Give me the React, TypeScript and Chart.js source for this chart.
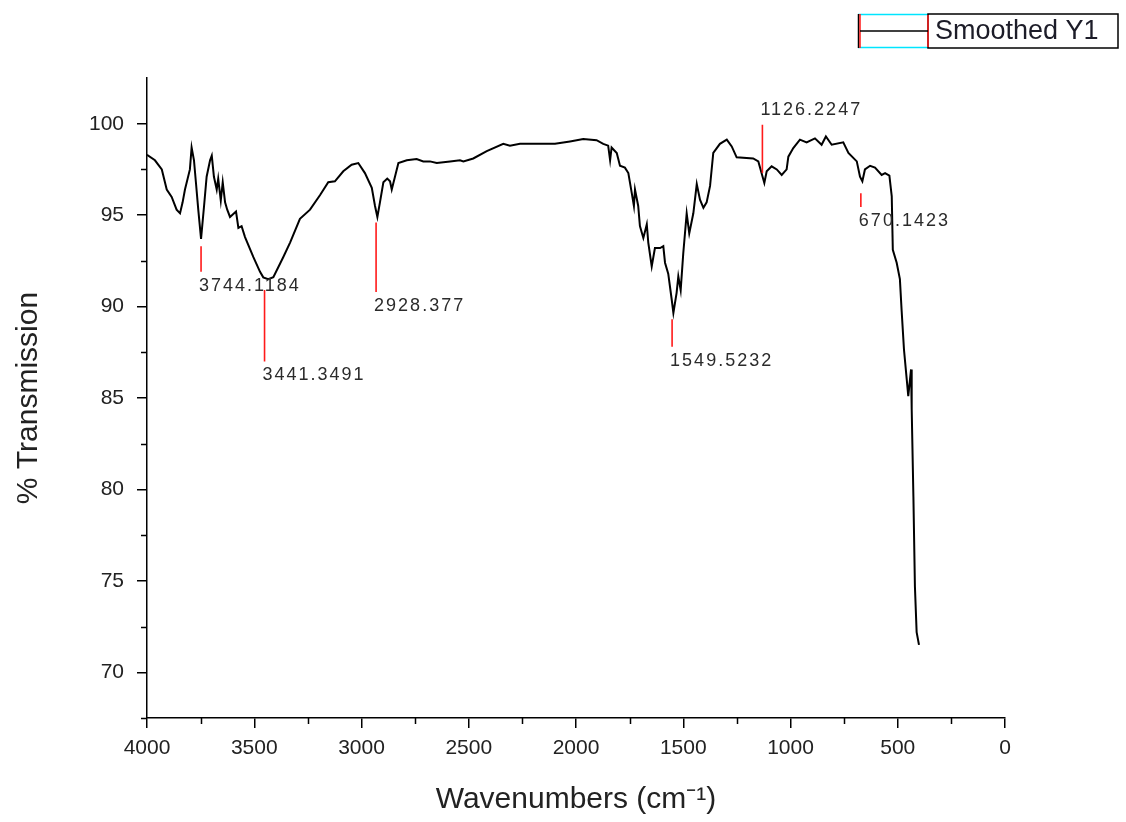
import React, { useEffect, useRef } from 'react';
import { Chart, registerables } from 'chart.js';

Chart.register(...registerables);

// Spectrum (wavenumber cm-1, % transmission)
const wavenumbers = [
  4000, 3963, 3931, 3908, 3885, 3862, 3846, 3834, 3823, 3800, 3792, 3781, 3772, 3761, 3748,
  3734, 3722, 3706, 3698, 3688, 3675, 3668, 3656, 3647, 3636, 3626, 3613, 3585, 3574, 3559,
  3543, 3504, 3473, 3458, 3435, 3411, 3365, 3333, 3287, 3240, 3193, 3155, 3124, 3085, 3046,
  3015, 2984, 2952, 2937, 2926, 2914, 2898, 2880, 2867, 2859, 2844, 2828, 2789, 2743, 2712,
  2681, 2649, 2587, 2541, 2525, 2479, 2416, 2339, 2308, 2261, 2098, 2028, 1966, 1904, 1873,
  1850, 1841, 1834, 1810, 1795, 1772, 1756, 1740, 1730, 1725, 1710, 1702, 1686, 1670, 1663,
  1647, 1632, 1608, 1593, 1585, 1570, 1554, 1546, 1531, 1523, 1512, 1500, 1484, 1472, 1453,
  1437, 1422, 1406, 1391, 1375, 1360, 1329, 1297, 1274, 1251, 1174, 1150, 1135, 1122, 1111,
  1088, 1064, 1041, 1018, 1010, 987, 956, 925, 886, 855, 835, 808, 754, 730, 691,
  676, 665, 653, 629, 606, 575, 559, 539, 528, 523, 505, 490, 482, 471, 458,
  451, 438, 435, 427, 420, 412, 401,
];
const transmission = [
  98.3, 98.0, 97.5, 96.4, 96.0, 95.3, 95.1, 95.7, 96.4, 97.5, 98.7, 98.0, 96.8, 95.3, 93.7,
  95.5, 97.1, 98.0, 98.25, 97.1, 96.4, 97.0, 95.8, 96.8, 95.7, 95.3, 94.9, 95.2, 94.3, 94.4,
  93.8, 92.7, 91.9, 91.6, 91.5, 91.6, 92.7, 93.5, 94.8, 95.3, 96.1, 96.8, 96.85, 97.4, 97.76,
  97.85, 97.3, 96.5, 95.5, 94.9, 95.7, 96.8, 97.0, 96.85, 96.4, 97.1, 97.85, 98.0, 98.07, 97.94,
  97.94, 97.85, 97.94, 98.0, 97.94, 98.1, 98.5, 98.9, 98.8, 98.9, 98.9, 99.03, 99.16, 99.1, 98.9,
  98.8, 98.0, 98.7, 98.4, 97.7, 97.6, 97.3, 96.2, 95.5, 96.4, 95.5, 94.4, 93.75, 94.5, 93.5,
  92.2, 93.2, 93.2, 93.3, 92.4, 91.8, 90.4, 89.65, 90.75, 91.65, 90.9, 92.9, 95.1, 94.0, 95.1,
  96.7, 95.85, 95.4, 95.7, 96.6, 98.4, 98.9, 99.13, 98.76, 98.16, 98.1, 97.94, 97.3, 96.76, 97.4,
  97.67, 97.5, 97.2, 97.5, 98.2, 98.67, 99.13, 98.98, 99.2, 98.85, 99.3, 98.85, 98.98, 98.4, 97.94,
  97.1, 96.85, 97.5, 97.7, 97.6, 97.2, 97.3, 97.16, 96.03, 93.1, 92.4, 91.5, 89.8, 87.65, 86.0,
  85.1, 86.56, 84.4, 79.6, 74.7, 72.2, 71.5,
];

// Peak annotations
const peakLabels = ['3744.1184', '3441.3491', '2928.377', '1549.5232', '1126.2247', '670.1423'];
const peakMarkerX = [3748, 3452, 2932, 1552, 1131, 672];
const peakMarkerTop = [93.3, 90.9, 94.6, 89.3, 99.95, 96.2];
const peakMarkerBottom = [91.9, 87.0, 90.8, 87.8, 97.3, 95.45];
const peakLabelAbove = [false, false, false, false, true, false];

// Axis ticks
const xMajorTicks = [0, 500, 1000, 1500, 2000, 2500, 3000, 3500, 4000];
const xMinorTicks = [250, 750, 1250, 1750, 2250, 2750, 3250, 3750];
const yMajorTicks = [70, 75, 80, 85, 90, 95, 100];
const yMinorTicks = [67.5, 72.5, 77.5, 82.5, 87.5, 92.5, 97.5];

const seriesName = 'Smoothed Y1';

export default function App() {
  const canvasRef = useRef<HTMLCanvasElement | null>(null);

  useEffect(() => {
    const canvas = canvasRef.current;
    if (!canvas) return;

    const spectrum = wavenumbers.map((w, i) => ({ x: w, y: transmission[i] }));
    const markerSets = peakMarkerX.map((px, i) => ({
      label: peakLabels[i],
      data: [
        { x: px, y: peakMarkerTop[i] },
        { x: px, y: peakMarkerBottom[i] },
      ],
      borderColor: '#ff1a1a',
      borderWidth: 1.6,
      pointRadius: 0,
      order: 0,
    }));

    const decorPlugin = {
      id: 'decor',
      afterDatasetsDraw(chart: any) {
        const ctx = chart.ctx as CanvasRenderingContext2D;
        const xs = chart.scales.x;
        const ys = chart.scales.y;
        ctx.save();
        ctx.font = '18px "Liberation Sans", Arial, sans-serif';
        (ctx as any).letterSpacing = '2px';
        ctx.fillStyle = '#2b2b2b';
        ctx.textAlign = 'left';
        ctx.textBaseline = 'middle';
        peakLabels.forEach((lab, i) => {
          const x = xs.getPixelForValue(peakMarkerX[i]) - 2;
          const y = peakLabelAbove[i]
            ? ys.getPixelForValue(peakMarkerTop[i]) - 15
            : ys.getPixelForValue(peakMarkerBottom[i]) + 14;
          ctx.fillText(lab, x, y);
        });
        (ctx as any).letterSpacing = '0px';
        ctx.restore();
      },
      afterDraw(chart: any) {
        const ctx = chart.ctx as CanvasRenderingContext2D;
        const xs = chart.scales.x;
        const ys = chart.scales.y;
        const area = chart.chartArea;
        ctx.save();
        ctx.strokeStyle = '#000';
        ctx.lineWidth = 1.5;
        ctx.beginPath();
        xMinorTicks.forEach((v) => {
          const x = Math.round(xs.getPixelForValue(v)) + 0.5;
          ctx.moveTo(x, area.bottom);
          ctx.lineTo(x, area.bottom + 6);
        });
        yMinorTicks.forEach((v) => {
          const y = Math.round(ys.getPixelForValue(v)) + 0.5;
          ctx.moveTo(area.left, y);
          ctx.lineTo(area.left - 6, y);
        });
        ctx.stroke();

        // Legend box (Origin style)
        const lx = 858, ly = 14, lw = 70, tw = 190, lh = 34;
        ctx.lineWidth = 1.5;
        ctx.strokeStyle = '#00e5ff';
        ctx.beginPath();
        ctx.moveTo(lx, ly + 0.5);
        ctx.lineTo(lx + lw, ly + 0.5);
        ctx.moveTo(lx, ly + lh - 0.5);
        ctx.lineTo(lx + lw, ly + lh - 0.5);
        ctx.stroke();
        ctx.strokeStyle = '#000';
        ctx.strokeRect(lx + lw, ly, tw, lh);
        ctx.beginPath();
        ctx.moveTo(lx + 0.5, ly);
        ctx.lineTo(lx + 0.5, ly + lh);
        ctx.stroke();
        ctx.strokeStyle = '#ff1a1a';
        ctx.beginPath();
        ctx.moveTo(lx + 2, ly);
        ctx.lineTo(lx + 2, ly + lh);
        ctx.moveTo(lx + lw, ly + 1);
        ctx.lineTo(lx + lw, ly + lh - 1);
        ctx.stroke();
        ctx.strokeStyle = '#000';
        ctx.lineWidth = 1.6;
        ctx.beginPath();
        ctx.moveTo(lx + 2, ly + lh / 2);
        ctx.lineTo(lx + lw, ly + lh / 2);
        ctx.stroke();
        ctx.fillStyle = '#1c1c28';
        ctx.font = '27px "Liberation Sans", Arial, sans-serif';
        ctx.textAlign = 'left';
        ctx.textBaseline = 'middle';
        ctx.fillText(seriesName, lx + lw + 7, ly + lh / 2 + 1);
        ctx.restore();
      },
    };

    const chart = new Chart(canvas, {
      type: 'line',
      data: {
        datasets: [
          {
            label: seriesName,
            data: spectrum,
            borderColor: '#000',
            borderWidth: 2,
            pointRadius: 0,
            tension: 0,
            order: 1,
          },
          ...markerSets,
        ],
      },
      options: {
        animation: false,
        responsive: false,
        devicePixelRatio: 1,
        layout: { padding: { top: 78, right: 121, left: 0, bottom: 0 } },
        plugins: {
          legend: { display: false },
          tooltip: { enabled: false },
        },
        scales: {
          x: {
            type: 'linear',
            reverse: true,
            min: 0,
            max: 4000,
            afterBuildTicks: (s: any) => {
              s.ticks = xMajorTicks.map((v) => ({ value: v }));
            },
            afterFit: (s: any) => {
              s.height = 104;
            },
            ticks: {
              color: '#222',
              font: { family: '"Liberation Sans", Arial, sans-serif', size: 21 },
              padding: 8,
              maxRotation: 0,
              autoSkip: false,
              callback: (v: any) => String(v),
            },
            grid: {
              display: true,
              drawOnChartArea: false,
              drawTicks: true,
              tickLength: 10,
              color: '#000',
              lineWidth: 1.5,
            },
            border: { display: true, color: '#000', width: 1.5 },
            title: {
              display: true,
              text: 'Wavenumbers (cm⁻¹)',
              color: '#222',
              font: { family: '"Liberation Sans", Arial, sans-serif', size: 30 },
              padding: { top: 0, bottom: 4 },
            },
          },
          y: {
            type: 'linear',
            min: 67.5,
            max: 102.5,
            afterBuildTicks: (s: any) => {
              s.ticks = yMajorTicks.map((v) => ({ value: v }));
            },
            afterFit: (s: any) => {
              s.width = 147;
            },
            ticks: {
              color: '#222',
              font: { family: '"Liberation Sans", Arial, sans-serif', size: 21 },
              padding: 13,
              autoSkip: false,
              callback: (v: any) => String(v),
            },
            grid: {
              display: true,
              drawOnChartArea: false,
              drawTicks: true,
              tickLength: 10,
              color: '#000',
              lineWidth: 1.5,
            },
            border: { display: true, color: '#000', width: 1.5 },
            title: {
              display: true,
              text: '% Transmission',
              color: '#222',
              font: { family: '"Liberation Sans", Arial, sans-serif', size: 30 },
              padding: { top: 11, bottom: 0 },
            },
          },
        },
      },
      plugins: [decorPlugin],
    } as any);

    return () => {
      chart.destroy();
    };
  }, []);

  return (
    <div style={{ position: 'fixed', left: 0, top: 0, width: 1126, height: 822, background: '#fff' }}>
      <canvas ref={canvasRef} width={1126} height={822} />
    </div>
  );
}
